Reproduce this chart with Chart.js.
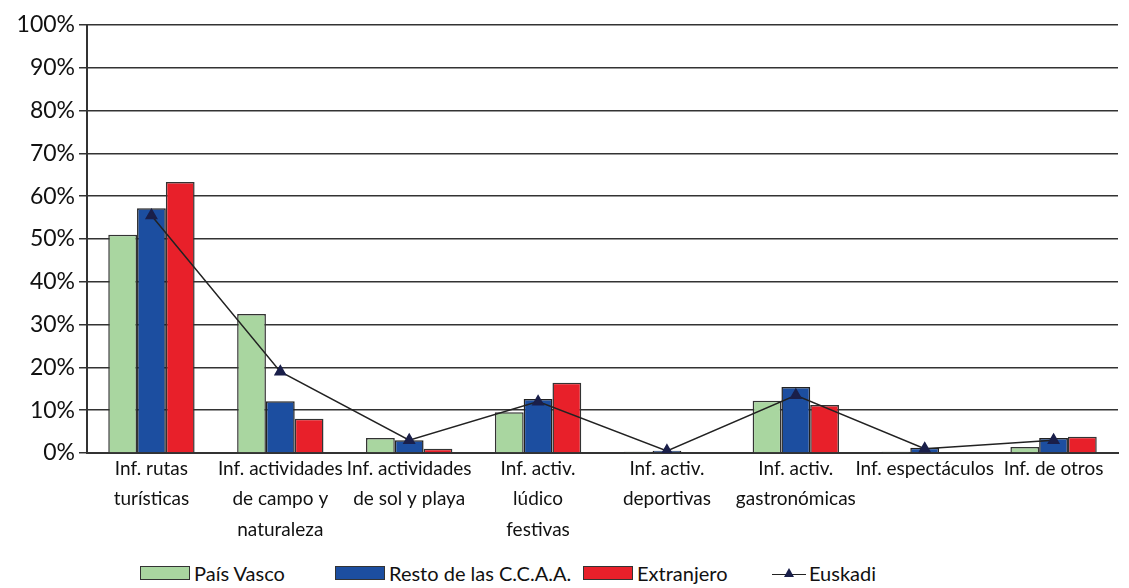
<!DOCTYPE html>
<html>
<head>
<meta charset="utf-8">
<script src="https://cdn.jsdelivr.net/npm/chart.js@4/dist/chart.umd.min.js"></script>
<style>
  body { margin: 0; background: #fff; font-family: Lato, sans-serif; }
  #wrap { position: relative; width: 1129px; height: 548px; }
  #legend { position: relative; height: 40px; font-size: 20px; color: #111; }
  .item { position: absolute; top: 13px; display: flex; align-items: center; }
  .sw { width: 50px; height: 14px; border: 1.5px solid #333; margin-right: 4px; box-sizing: border-box; }
  .ln { position: relative; width: 34px; height: 14px; margin-right: 3px; }
  .ln:before { content: ""; position: absolute; left: 0; right: 0; top: 8px; border-top: 1.5px solid #222; }
  .ln:after { content: ""; position: absolute; left: 12px; top: 2px; width: 0; height: 0;
    border-left: 5px solid transparent; border-right: 5px solid transparent; border-bottom: 9px solid #1a1f4a; }
</style>
</head>
<body>
<div id="wrap"><canvas id="chart" width="1129" height="548"></canvas></div>
<div id="legend">
  <div class="item" style="left:140px"><div class="sw" style="background:#a9d6a0"></div>País Vasco</div>
  <div class="item" style="left:335px"><div class="sw" style="background:#1c4ea0"></div>Resto de las C.C.A.A.</div>
  <div class="item" style="left:583px"><div class="sw" style="background:#e8202a"></div>Extranjero</div>
  <div class="item" style="left:772px"><div class="ln"></div>Euskadi</div>
</div>
<script>
// categorias (multilinea como en la figura)
const categories = [
    ['Inf. rutas', 'turísticas'],
    ['Inf. actividades', 'de campo y', 'naturaleza'],
    ['Inf. actividades', 'de sol y playa'],
    ['Inf. activ.', 'lúdico', 'festivas'],
    ['Inf. activ.', 'deportivas'],
    ['Inf. activ.', 'gastronómicas'],
    ['Inf. espectáculos'],
    ['Inf. de otros']
];

const paisVasco  = [51, 32.5, 3.5, 9.5, 0.3, 12.2, 0.3, 1.4];
const restoCCAA  = [57.2, 12.1, 3, 12.6, 0.5, 15.4, 1.2, 3.5];
const extranjero = [63.3, 8, 1, 16.4, 0, 11.2, 0, 3.8];
const euskadi    = [55.5, 19, 3, 12, 0.5, 13.5, 1, 3];

const yTicks = [0, 10, 20, 30, 40, 50, 60, 70, 80, 90, 100];

var ctx = document.getElementById('chart').getContext('2d');

var myChart = new Chart(ctx, {
    type: 'bar',
    data: {
        labels: categories,
        datasets: [
            {
                type: 'line',
                label: 'Euskadi',
                data: euskadi,
                borderColor: '#222',
                borderWidth: 1.5,
                pointStyle: 'triangle',
                pointRadius: 6,
                pointBackgroundColor: '#1a1f4a',
                pointBorderColor: '#1a1f4a',
                tension: 0,
                order: 0
            },
            {
                label: 'País Vasco',
                data: paisVasco,
                backgroundColor: '#a9d6a0',
                borderColor: '#333',
                borderWidth: 1.5,
                order: 1
            },
            {
                label: 'Resto de las C.C.A.A.',
                data: restoCCAA,
                backgroundColor: '#1c4ea0',
                borderColor: '#222',
                borderWidth: 1.5,
                order: 1
            },
            {
                label: 'Extranjero',
                data: extranjero,
                backgroundColor: '#e8202a',
                borderColor: '#333',
                borderWidth: 1.5,
                order: 1
            }
        ]
    },
    options: {
        responsive: false,
        animation: false,
        layout: { padding: { top: 25, right: 11, left: 0, bottom: 0 } },
        datasets: {
            bar: { categoryPercentage: 0.67, barPercentage: 1.0 }
        },
        plugins: {
            legend: { display: false },
            tooltip: { enabled: false }
        },
        scales: {
            x: {
                grid: { display: false, drawTicks: false },
                border: { color: '#333', width: 2 },
                ticks: {
                    color: '#111',
                    font: { family: 'Lato', size: 19, lineHeight: 1.62 },
                    padding: 0,
                    maxRotation: 0,
                    autoSkip: false
                },
                afterFit: function (scale) { scale.height = 95; }
            },
            y: {
                min: 0,
                max: 100,
                afterBuildTicks: function (scale) {
                    scale.ticks = yTicks.map(v => ({ value: v }));
                },
                grid: { color: '#333', lineWidth: 1.5, tickLength: 8 },
                border: { color: '#333', width: 2 },
                ticks: {
                    color: '#111',
                    font: { family: 'Lato', size: 23 },
                    padding: 4,
                    callback: function (v) { return v + '%'; }
                },
                afterFit: function (scale) { scale.width = 87; }
            }
        }
    }
});
</script>
</body>
</html>
